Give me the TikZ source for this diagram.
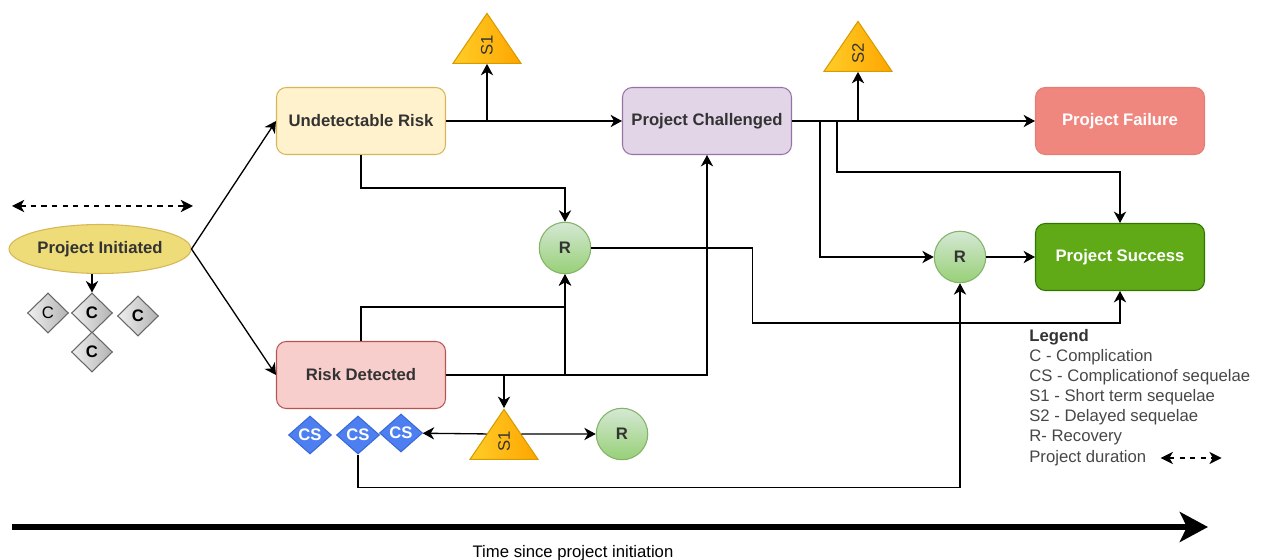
\documentclass[tikz,border=0pt]{standalone}
\usepackage{fontspec}
\setmainfont{Liberation Sans}
\usetikzlibrary{shapes.geometric,arrows.meta}

\definecolor{txt}{HTML}{333333}
\definecolor{ylfill}{HTML}{FFF2CC}
\definecolor{ylline}{HTML}{D6B656}
\definecolor{inifill}{HTML}{EDDC78}
\definecolor{rdfill}{HTML}{F8CECC}
\definecolor{rdline}{HTML}{B85450}
\definecolor{pufill}{HTML}{E1D5E7}
\definecolor{puline}{HTML}{9673A6}
\definecolor{failfill}{HTML}{F0877F}
\definecolor{succfill}{HTML}{60A917}
\definecolor{succline}{HTML}{2D7600}
\definecolor{grlight}{HTML}{D5E8D4}
\definecolor{grdark}{HTML}{97D077}
\definecolor{grline}{HTML}{82B366}
\definecolor{orlight}{HTML}{FFCD28}
\definecolor{ordark}{HTML}{FFA500}
\definecolor{orline}{HTML}{D79B00}
\definecolor{csfill}{HTML}{4D7FF0}
\definecolor{csline}{HTML}{3A6AD8}

\newcommand{\dfont}{\fontsize{9.5}{11}\selectfont}

\tikzset{
  box/.style={rectangle, rounded corners=5.5pt, minimum width=3.38cm, minimum height=1.34cm, line width=0.6pt, font=\dfont\bfseries, text=txt},
  recov/.style={circle, minimum size=1.03cm, inner sep=0pt, top color=grlight, bottom color=grdark, draw=grline, line width=0.6pt, font=\dfont\bfseries, text=txt},
  sequel/.style={isosceles triangle, isosceles triangle stretches, rotate=90, anchor=apex, minimum width=1.36cm, minimum height=1cm, inner sep=0pt, left color=orlight, right color=ordark, draw=orline, line width=0.6pt, font=\dfont, text=txt},
  compl/.style={diamond, minimum width=0.82cm, minimum height=0.8cm, inner sep=0pt, left color=gray!12, right color=gray!60, draw=gray!120, line width=0.6pt, font=\dfont},
  cseq/.style={diamond, minimum width=0.86cm, minimum height=0.76cm, inner sep=0pt, fill=csfill, draw=csline, line width=0.6pt, text=white, font=\dfont\bfseries},
  arr/.style={-{Stealth[length=6.5pt,width=7pt,inset=2pt]}, line width=0.75pt},
  dur/.style={{Stealth[length=7pt,width=7pt,inset=2pt]}-{Stealth[length=7pt,width=7pt,inset=2pt]}, dashed, dash pattern=on 3pt off 3pt, line width=0.75pt},
  legtext/.style={anchor=west, inner sep=0pt, font=\dfont, text=txt!90}
}

\begin{document}
\begin{tikzpicture}[x=0.02cm, y=-0.02cm]
  \useasboundingbox (0,0) rectangle (1262,560);

  % left part
  \coordinate (d1) at (12,206);
  \coordinate (d2) at (193,206);
  \draw[dur] (d1) -- (d2);
  \node[ellipse, minimum width=3.64cm, minimum height=0.98cm, inner sep=0pt, fill=inifill, draw=ylline, line width=0.6pt, font=\dfont\bfseries, text=txt] (ini) at (100,249) {Project Initiated};
  \node[compl] (c1) at (48,313) {C};
  \node[compl, font=\dfont\bfseries] (c2) at (92,313) {C};
  \node[compl, font=\dfont\bfseries] (c3) at (138,316) {C};
  \node[compl, font=\dfont\bfseries] (c4) at (92,352) {C};

  % risk boxes
  \node[box, fill=ylfill, draw=ylline] (unrisk) at (361,121) {Undetectable Risk};
  \node[box, fill=rdfill, draw=rdline] (detrisk) at (361,375) {Risk Detected};
  \node[cseq] (cs1) at (310,435) {CS};
  \node[cseq] (cs2) at (358,435) {CS};
  \node[cseq] (cs3) at (401,433) {CS};

  % middle
  \node[sequel] (s1a) at (487,12) {S1};
  \node[sequel] (s1b) at (504,408) {S1};
  \node[recov] (r1) at (565,248) {R};
  \node[recov] (r3) at (622,434) {R};
  \node[box, fill=pufill, draw=puline] (chall) at (707,121) {Project Challenged};

  % right part
  \node[sequel] (s2) at (858,20) {S2};
  \node[recov] (r2) at (960,257) {R};
  \node[box, fill=failfill, draw=failfill!80!rdline, text=white] (fail) at (1120,121) {Project Failure};
  \node[box, fill=succfill, draw=succline, text=white] (succ) at (1120,257) {Project Success};

  % junctions
  \coordinate (j1) at (487,121);
  \coordinate (j2) at (858,121);
  \coordinate (j3) at (820,121);
  \coordinate (j4) at (837,121);
  \coordinate (j5) at (504,375);

  \draw[arr] (ini.east) -- (unrisk.west);
  \draw[arr] (ini.east) -- (detrisk.west);
  \draw[arr] (ini.south -| c2) -- (c2.north);

  \draw[arr] (unrisk.east) -- (chall.west);
  \draw[arr] (j1) -- (s1a.lower side);
  \draw[arr] (unrisk.south) -- ++(0,33) -| (r1);

  \draw[arr] (detrisk.north) -- ++(0,-34) -| (r1.south);
  \draw[arr] (detrisk.east) -| (r1.south);
  \draw[arr] (detrisk.east) -| (chall.south);
  \draw[arr] (j5) -- (s1b.apex);
  \draw[arr] (s1b.left side) -- (cs3);
  \draw[arr] (s1b.right side) -- (r3);
  \draw[arr] (cs2.south) -- ++(0,33) -| (r2.south);

  \draw[arr] (chall.east) -- (fail.west);
  \draw[arr] (j2) -- (s2.lower side);
  \draw[arr] (j3) |- (r2);
  \draw[arr] (j4) -- ++(0,51) -| (succ.north);
  \draw[arr] (r2) -- (succ);
  \draw[arr] (r1.east) -| ++(161,75) -| (succ.south);

  % legend
  \node[legtext, font=\dfont\bfseries, text=txt] (lg0) at (1029,337) {Legend};
  \node[legtext] (lg1) at (1029,357) {C - Complication};
  \node[legtext] (lg2) at (1029,377) {CS - Complicationof sequelae};
  \node[legtext] (lg3) at (1029,397) {S1 - Short term sequelae};
  \node[legtext] (lg4) at (1029,417) {S2 - Delayed sequelae};
  \node[legtext] (lg5) at (1029,437) {R- Recovery};
  \node[legtext] (lg6) at (1029,458) {Project duration};
  \draw[dur] ([xshift=8pt]lg6.east) -- ++(61,0);

  % time axis
  \coordinate (t0) at (12,527);
  \coordinate (t1) at (1208,527);
  \draw[-{Stealth[length=16pt,width=17pt,inset=4pt]}, line width=3.2pt] (t0) -- (t1);
  \node[font=\dfont, inner sep=0pt] (tlabel) at (573,553) {Time since project initiation};
\end{tikzpicture}
\end{document}
